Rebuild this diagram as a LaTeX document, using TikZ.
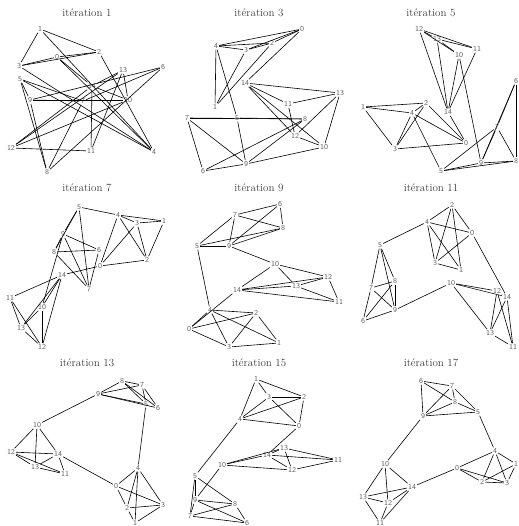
\documentclass[tikz,border=0pt]{standalone}
\usepackage{tikz}
\usetikzlibrary{positioning}
\definecolor{labelgray}{RGB}{95,95,95}
\definecolor{titlegray}{RGB}{60,60,60}

% edges shared by every iteration
\newcommand{\graphedges}{0/2,0/3,0/4,1/2,1/3,1/4,2/3,2/4,3/4,5/7,5/8,5/9,6/7,6/8,6/9,7/8,7/9,8/9,10/12,10/13,10/14,11/12,11/13,11/14,12/13,12/14,13/14,4/5,9/10,0/14}

% #1 prefix, #2 node positions
\newcommand{\drawlayout}[2]{%
  \foreach \n/\px/\py in {#2} \node[vertex] (#1\n) at (\px,\py) {\n};
  \foreach \ea/\eb in \graphedges \draw[link] (#1\ea) -- (#1\eb);
}

\begin{document}
\begin{tikzpicture}[x=1pt, y=-1pt,
  vertex/.style={inner sep=1pt, text=labelgray, font=\sffamily\fontsize{7.5}{8}\selectfont},
  link/.style={line width=0.6pt, black},
  paneltitle/.style={text=titlegray, font=\fontsize{11}{13}\selectfont}]
\useasboundingbox (0,0) rectangle (518,526);

\node[paneltitle] (t1) at (87,13) {itération 1};
\node[paneltitle] (t3) at (259,13) {itération 3};
\node[paneltitle] (t5) at (431,13) {itération 5};
\node[paneltitle] (t7) at (87,188) {itération 7};
\node[paneltitle] (t9) at (259,188) {itération 9};
\node[paneltitle] (t11) at (431,188) {itération 11};
\node[paneltitle] (t13) at (87,363) {itération 13};
\node[paneltitle] (t15) at (259,363) {itération 15};
\node[paneltitle] (t17) at (431,363) {itération 17};

% iteration 1
\drawlayout{a}{0/57/57, 1/40/29, 2/99/52, 3/19/66, 4/154/152, 5/20/79, 6/163/67, 7/83/101, 8/47/172, 9/30/100, 10/128/100, 11/91/151, 12/11/148, 13/123/70, 14/92/86}
% iteration 3
\drawlayout{b}{0/302/29, 1/215/107, 2/272/43, 3/246/50, 4/216/46, 5/237/118, 6/203/171, 7/187/118, 8/305/119, 9/246/164, 10/324/147, 11/288/104, 12/295/136, 13/340/93, 14/245/83}
% iteration 5
\drawlayout{c}{0/466/143, 1/363/107, 2/426/103, 3/395/149, 4/412/113, 5/441/171, 6/516/81, 7/497/127, 8/516/161, 9/481/163, 10/459/55, 11/477/49, 12/419/29, 13/437/39, 14/448/112}
% iteration 7
\drawlayout{d}{0/100/266, 1/164/221, 2/147/260, 3/137/223, 4/118/215, 5/79/207, 6/99/250, 7/89/289, 8/54/252, 9/63/234, 10/42/307, 11/10/298, 12/42/347, 13/21/328, 14/62/275}
% iteration 9
\drawlayout{e}{0/189/329, 1/279/343, 2/256/313, 3/229/347, 4/210/310, 5/197/246, 6/280/204, 7/235/215, 8/283/228, 9/229/246, 10/275/264, 11/339/302, 12/328/277, 13/296/286, 14/237/290}
% iteration 11
\drawlayout{f}{0/472/233, 1/461/270, 2/452/205, 3/435/263, 4/427/222, 5/380/245, 6/363/321, 7/371/288, 8/395/281, 9/395/310, 10/451/283, 11/513/347, 12/497/291, 13/490/333, 14/507/297}
% iteration 13
\drawlayout{g}{0/116/486, 1/135/523, 2/127/508, 3/163/505, 4/138/468, 5/146/404, 6/158/408, 7/142/385, 8/122/381, 9/98/394, 10/37/425, 11/65/474, 12/11/452, 13/35/467, 14/58/454}
% iteration 15
\drawlayout{h}{0/299/426, 1/256/379, 2/304/397, 3/269/397, 4/240/419, 5/195/476, 6/247/523, 7/190/516, 8/235/504, 9/195/500, 10/222/465, 11/338/460, 12/292/470, 13/284/448, 14/267/455}
% iteration 17
\drawlayout{i}{0/457/468, 1/516/464, 2/482/482, 3/507/483, 4/495/451, 5/478/412, 6/421/381, 7/452/386, 8/455/402, 9/423/416, 10/385/464, 11/380/523, 12/388/503, 13/363/497, 14/412/487}
\end{tikzpicture}
\end{document}
